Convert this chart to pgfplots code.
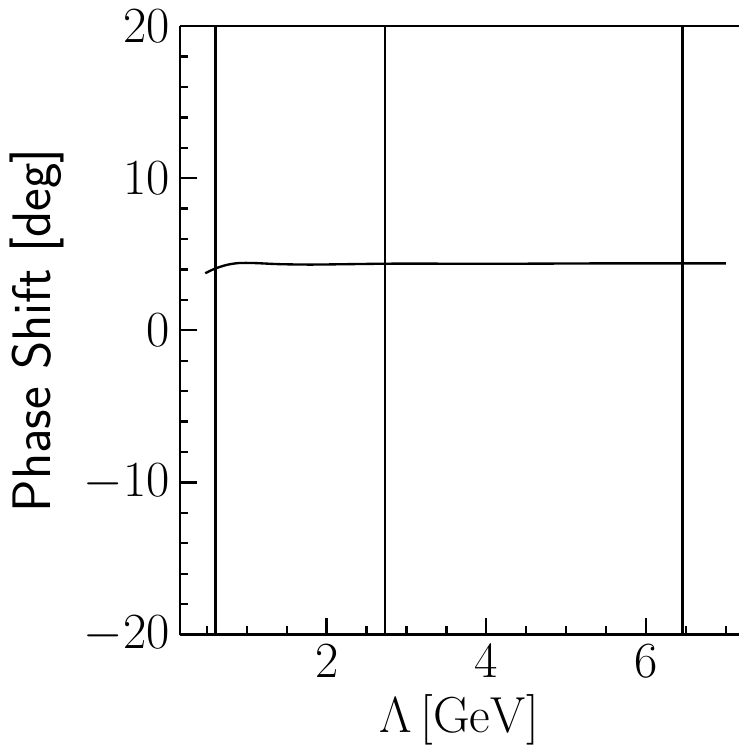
\documentclass[border=0pt]{standalone}
\usepackage{pgfplots}
\pgfplotsset{compat=1.18}
\begin{document}
\begin{tikzpicture}
\begin{axis}[
    scale only axis,
    width=6.7cm, height=7.3cm,
    xmin=0.165, xmax=7.16,
    ymin=-20, ymax=20,
    axis x line=box, axis y line=left,
    axis line style={-, line width=0.8pt},
    xtick={2,4,6},
    ytick={-20,-10,0,10,20},
    minor xtick={0.5,1,1.5,2.5,3,3.5,4.5,5,5.5,6.5,7},
    minor ytick={-18,-16,-14,-12,-8,-6,-4,-2,2,4,6,8,12,14,16,18},
    tick align=inside,
    xtick pos=bottom, ytick pos=left,
    major tick length=0.2cm, minor tick length=0.1cm,
    every tick/.style={black, line width=0.8pt},
    tick label style={font=\fontsize{16}{19}\selectfont},
    xlabel={$\Lambda\,[\mathrm{GeV}]$},
    ylabel={\sffamily Phase Shift [deg]},
    label style={font=\fontsize{18.5}{22}\selectfont},
    xlabel style={yshift=1pt},
    ylabel style={yshift=0pt},
]
\addplot[black, line width=0.8pt, smooth] coordinates {
 (0.48,3.75) (0.6,4.05) (0.75,4.3) (0.9,4.42) (1.1,4.42) (1.4,4.35) (1.8,4.32) (2.3,4.35) (2.8,4.38) (3.5,4.38) (4.5,4.38) (5.5,4.4) (6.5,4.4) (7.0,4.4)
};
\addplot[black, line width=0.9pt] coordinates {(0.61,-20) (0.61,20)};
\addplot[black, line width=0.9pt] coordinates {(2.73,-20) (2.73,20)};
\addplot[black, line width=0.9pt] coordinates {(6.46,-20) (6.46,20)};
\end{axis}
\end{tikzpicture}
\end{document}
